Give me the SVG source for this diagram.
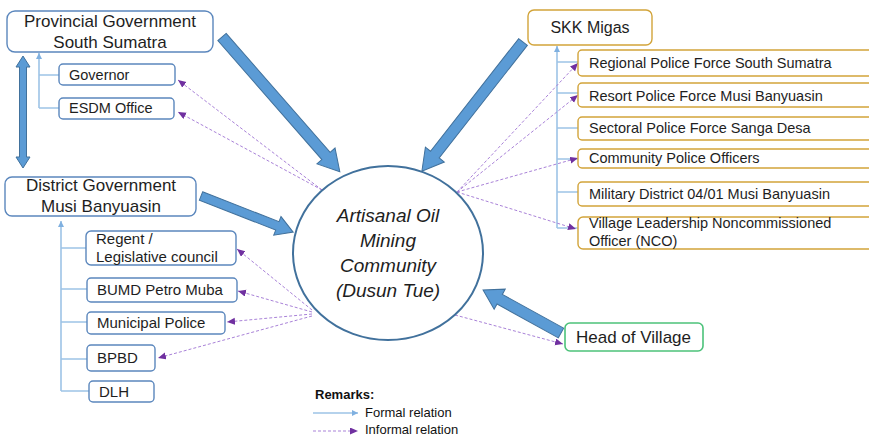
<svg xmlns="http://www.w3.org/2000/svg" width="869" height="438" viewBox="0 0 869 438">
  <defs>
    <style>
      .txt { font-family: "Liberation Sans", Arial, sans-serif; fill: #1e1e1e; }
      .gov { fill: #ffffff; stroke: #5b87bd; stroke-width: 1.4; }
      .skk { fill: #ffffff; stroke: #d2a43a; stroke-width: 1.4; }
      .vil { fill: #ffffff; stroke: #4cc27a; stroke-width: 1.6; }
      .formal { fill: none; stroke: #9dc3e6; stroke-width: 1.6; }
      .informal { fill: none; stroke: #a982d8; stroke-width: 1; stroke-dasharray: 3 2; }
      .big { fill: #5b9bd5; stroke: #41719c; stroke-width: 1; }
    </style>
    <marker id="mFormal" markerUnits="userSpaceOnUse" markerWidth="7" markerHeight="6" refX="6" refY="3" orient="auto">
      <path d="M0,0 L6,3 L0,6 z" fill="#7fb0e0"/>
    </marker>
    <marker id="mInformal" markerUnits="userSpaceOnUse" markerWidth="9" markerHeight="8" refX="8" refY="3.5" orient="auto">
      <path d="M0,0 L8,3.5 L0,7 z" fill="#7030a0"/>
    </marker>
  </defs>

  <!-- connectors -->
  <g id="connectors">
    <!-- formal hierarchy lines -->
    <path class="formal" d="M39,108 V53" marker-end="url(#mFormal)"/>
    <path class="formal" d="M39,75 H59 M39,108 H59"/>
    <path class="formal" d="M61,391 V221" marker-end="url(#mFormal)"/>
    <path class="formal" d="M61,248 H86 M61,289 H87 M61,322 H87 M61,359 H87 M61,391 H89"/>
    <path class="formal" d="M557,228 V46" marker-end="url(#mFormal)"/>
    <path class="formal" d="M557,62 H578 M557,93 H578 M557,128 H578 M557,159 H578 M557,192 H578 M557,228 H578"/>

    <!-- informal relations -->
    <path class="informal" d="M322,190 L178,80" marker-end="url(#mInformal)"/>
    <path class="informal" d="M322,190 L178,112" marker-end="url(#mInformal)"/>
    <path class="informal" d="M312,310 L237,249" marker-end="url(#mInformal)"/>
    <path class="informal" d="M312,312 L238,291" marker-end="url(#mInformal)"/>
    <path class="informal" d="M312,314 L227,322" marker-end="url(#mInformal)"/>
    <path class="informal" d="M312,316 L158,358" marker-end="url(#mInformal)"/>
    <path class="informal" d="M457,192 L578,63" marker-end="url(#mInformal)"/>
    <path class="informal" d="M457,192 L578,95" marker-end="url(#mInformal)"/>
    <path class="informal" d="M457,192 L578,158" marker-end="url(#mInformal)"/>
    <path class="informal" d="M457,192 L576,229" marker-end="url(#mInformal)"/>
    <path class="informal" d="M455,315 L563,344" marker-end="url(#mInformal)"/>

    <!-- thick influence arrows -->
    <polygon class="big" transform="translate(222,37) rotate(48.84)" points="0,-5.5 158,-5.5 158,-12 179,0 158,12 158,5.5 0,5.5"/>
    <polygon class="big" transform="translate(523,42) rotate(128.06)" points="0,-5.5 143,-5.5 143,-12 164,0 143,12 143,5.5 0,5.5"/>
    <polygon class="big" transform="translate(201,196) rotate(21.37)" points="0,-4.5 82,-4.5 82,-10 99,0 82,10 82,4.5 0,4.5"/>
    <polygon class="big" transform="translate(561,333) rotate(-151.13)" points="0,-5.5 70,-5.5 70,-11.5 89,0 70,11.5 70,5.5 0,5.5"/>
    <polygon class="big" points="23,56 30,67 26.5,67 26.5,157 30,157 23,168 16,157 19.5,157 19.5,67 16,67"/>
  </g>

  <!-- central community -->
  <g id="community">
    <ellipse cx="388" cy="253" rx="95" ry="87" fill="#ffffff" stroke="#41719c" stroke-width="2"/>
    <g class="txt" font-size="19" font-style="italic" text-anchor="middle">
      <text x="388" y="222">Artisanal Oil</text>
      <text x="388" y="247">Mining</text>
      <text x="388" y="272">Community</text>
      <text x="388" y="297">(Dusun Tue)</text>
    </g>
  </g>

  <!-- provincial government -->
  <g id="provincial">
    <rect class="gov" x="7" y="11" width="206" height="41" rx="8"/>
    <text class="txt" x="110" y="27" font-size="17" text-anchor="middle">Provincial Government</text>
    <text class="txt" x="110" y="48" font-size="17" text-anchor="middle">South Sumatra</text>
  </g>
  <g id="governor">
    <rect class="gov" x="59" y="64" width="116" height="21" rx="4"/>
    <text class="txt" x="69" y="80" font-size="14.5">Governor</text>
  </g>
  <g id="esdm">
    <rect class="gov" x="59" y="98" width="115" height="21" rx="4"/>
    <text class="txt" x="69" y="113" font-size="14.5">ESDM Office</text>
  </g>

  <!-- district government -->
  <g id="district">
    <rect class="gov" x="5" y="177" width="191" height="39" rx="7"/>
    <text class="txt" x="101" y="191" font-size="17" text-anchor="middle">District Government</text>
    <text class="txt" x="101" y="212" font-size="17" text-anchor="middle">Musi Banyuasin</text>
  </g>
  <g id="regent">
    <rect class="gov" x="86" y="231" width="150" height="34" rx="5"/>
    <text class="txt" x="96" y="244" font-size="15">Regent /</text>
    <text class="txt" x="96" y="262" font-size="15">Legislative council</text>
  </g>
  <g id="bumd">
    <rect class="gov" x="87" y="278" width="150" height="24" rx="4"/>
    <text class="txt" x="97" y="295" font-size="15">BUMD Petro Muba</text>
  </g>
  <g id="municipal-police">
    <rect class="gov" x="87" y="312" width="138" height="22" rx="4"/>
    <text class="txt" x="97" y="328" font-size="15">Municipal Police</text>
  </g>
  <g id="bpbd">
    <rect class="gov" x="87" y="345" width="68" height="26" rx="4"/>
    <text class="txt" x="97" y="363" font-size="15">BPBD</text>
  </g>
  <g id="dlh">
    <rect class="gov" x="89" y="381" width="65" height="21" rx="4"/>
    <text class="txt" x="99" y="397" font-size="15">DLH</text>
  </g>

  <!-- SKK Migas and security bodies -->
  <g id="skk-migas">
    <rect class="skk" x="528" y="10" width="124" height="35" rx="6"/>
    <text class="txt" x="590" y="33" font-size="16" text-anchor="middle">SKK Migas</text>
  </g>
  <g id="regional-police">
    <rect class="skk" x="578" y="50" width="300" height="26" rx="4"/>
    <text class="txt" x="589" y="68" font-size="14.5">Regional Police Force South Sumatra</text>
  </g>
  <g id="resort-police">
    <rect class="skk" x="578" y="83" width="300" height="24" rx="4"/>
    <text class="txt" x="589" y="101" font-size="14.5">Resort Police Force Musi Banyuasin</text>
  </g>
  <g id="sectoral-police">
    <rect class="skk" x="578" y="117" width="300" height="23" rx="4"/>
    <text class="txt" x="589" y="133" font-size="14.5">Sectoral Police Force Sanga Desa</text>
  </g>
  <g id="community-police">
    <rect class="skk" x="578" y="149" width="300" height="19" rx="4"/>
    <text class="txt" x="589" y="163" font-size="14.5">Community Police Officers</text>
  </g>
  <g id="military-district">
    <rect class="skk" x="578" y="182" width="300" height="24" rx="4"/>
    <text class="txt" x="589" y="199" font-size="14.5">Military District 04/01 Musi Banyuasin</text>
  </g>
  <g id="village-nco">
    <rect class="skk" x="578" y="217" width="300" height="32" rx="5"/>
    <text class="txt" x="589" y="228" font-size="14.5">Village Leadership Noncommissioned</text>
    <text class="txt" x="589" y="246" font-size="14.5">Officer (NCO)</text>
  </g>

  <!-- head of village -->
  <g id="head-of-village">
    <rect class="vil" x="565" y="323" width="138" height="28" rx="5"/>
    <text class="txt" x="576" y="343" font-size="17">Head of Village</text>
  </g>

  <!-- legend -->
  <g id="legend" font-family="Arial, 'Liberation Sans', sans-serif">
    <text x="315" y="399" font-size="13" font-weight="bold" fill="#111">Remarks:</text>
    <path class="formal" d="M313,413 H358" marker-end="url(#mFormal)"/>
    <text x="365" y="417" font-size="13" fill="#111">Formal relation</text>
    <path class="informal" d="M313,431 H358" marker-end="url(#mInformal)"/>
    <text x="365" y="434" font-size="13" fill="#111">Informal relation</text>
  </g>
</svg>
